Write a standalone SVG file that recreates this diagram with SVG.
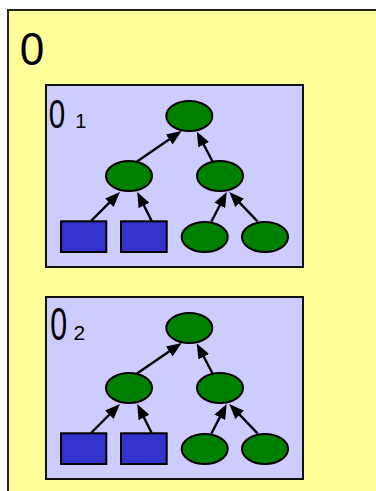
<svg xmlns="http://www.w3.org/2000/svg" width="376" height="491" viewBox="0 0 376 491">
  <style>
    .outer { fill: #FFFF99; stroke: #222222; stroke-width: 2; }
    .box { fill: #CCCCFF; stroke: #111111; stroke-width: 2; }
    .ell { fill: #008000; stroke: #000000; stroke-width: 2; }
    .leaf { fill: #3333CC; stroke: #000000; stroke-width: 2; }
    .edge { stroke: #000000; stroke-width: 2.4; fill: none; marker-end: url(#head); }
    .lbl { font-family: "Liberation Sans", Arial, sans-serif; fill: #000000; }
  </style>
  <defs>
    <marker id="head" viewBox="0 0 15 12" refX="5" refY="6" markerWidth="15" markerHeight="12" markerUnits="userSpaceOnUse" orient="auto">
      <path d="M0,0 L15,6 L0,12 z" fill="#000000"/>
    </marker>
  </defs>

  <!-- outer container -->
  <g id="container">
    <rect class="outer" x="8" y="10" width="400" height="500"/>
    <text class="lbl" transform="translate(19.8,64.5) scale(0.95,1)" font-size="46.5">0</text>
  </g>

  <!-- first sub-tree -->
  <g id="tree1">
    <rect class="box" x="46" y="85" width="257" height="182"/>
    <text class="lbl" transform="translate(48.8,128) scale(0.74,1)" font-size="40">0</text>
    <text class="lbl" x="75.3" y="128" font-size="20">1</text>
    <g id="t1-root"><ellipse class="ell" cx="189.3" cy="116" rx="23" ry="15"/></g>
    <g id="t1-left"><ellipse class="ell" cx="129" cy="176" rx="23" ry="15"/></g>
    <g id="t1-right"><ellipse class="ell" cx="220" cy="176" rx="23" ry="15"/></g>
    <g id="t1-leaf1"><rect class="leaf" x="61" y="221.3" width="45.3" height="30.7"/></g>
    <g id="t1-leaf2"><rect class="leaf" x="121" y="221.3" width="45.7" height="30.7"/></g>
    <g id="t1-leaf3"><ellipse class="ell" cx="204.7" cy="237" rx="23" ry="15"/></g>
    <g id="t1-leaf4"><ellipse class="ell" cx="265" cy="237" rx="23" ry="15"/></g>
    <g id="t1-edges">
      <line class="edge" x1="91" y1="221" x2="112.9" y2="199.1"/>
      <line class="edge" x1="151.7" y1="221" x2="141.7" y2="201"/>
      <line class="edge" x1="136.7" y1="161.7" x2="173.4" y2="136.6"/>
      <line class="edge" x1="212.7" y1="161.7" x2="201.4" y2="140.3"/>
      <line class="edge" x1="211.3" y1="221.7" x2="222.1" y2="200.9"/>
      <line class="edge" x1="257.7" y1="221.7" x2="236.2" y2="199.2"/>
    </g>
  </g>

  <!-- second sub-tree -->
  <g id="tree2" transform="translate(0,212)">
    <rect class="box" x="46" y="85" width="257" height="182"/>
    <text class="lbl" transform="translate(50.3,128) scale(0.66,1)" font-size="46">0</text>
    <text class="lbl" x="73.6" y="128" font-size="21">2</text>
    <g id="t2-root"><ellipse class="ell" cx="189.3" cy="116" rx="23" ry="15"/></g>
    <g id="t2-left"><ellipse class="ell" cx="129" cy="176" rx="23" ry="15"/></g>
    <g id="t2-right"><ellipse class="ell" cx="220" cy="176" rx="23" ry="15"/></g>
    <g id="t2-leaf1"><rect class="leaf" x="61" y="221.3" width="45.3" height="30.7"/></g>
    <g id="t2-leaf2"><rect class="leaf" x="121" y="221.3" width="45.7" height="30.7"/></g>
    <g id="t2-leaf3"><ellipse class="ell" cx="204.7" cy="237" rx="23" ry="15"/></g>
    <g id="t2-leaf4"><ellipse class="ell" cx="265" cy="237" rx="23" ry="15"/></g>
    <g id="t2-edges">
      <line class="edge" x1="91" y1="221" x2="112.9" y2="199.1"/>
      <line class="edge" x1="151.7" y1="221" x2="141.7" y2="201"/>
      <line class="edge" x1="136.7" y1="161.7" x2="173.4" y2="136.6"/>
      <line class="edge" x1="212.7" y1="161.7" x2="201.4" y2="140.3"/>
      <line class="edge" x1="211.3" y1="221.7" x2="222.1" y2="200.9"/>
      <line class="edge" x1="257.7" y1="221.7" x2="236.2" y2="199.2"/>
    </g>
  </g>
</svg>
